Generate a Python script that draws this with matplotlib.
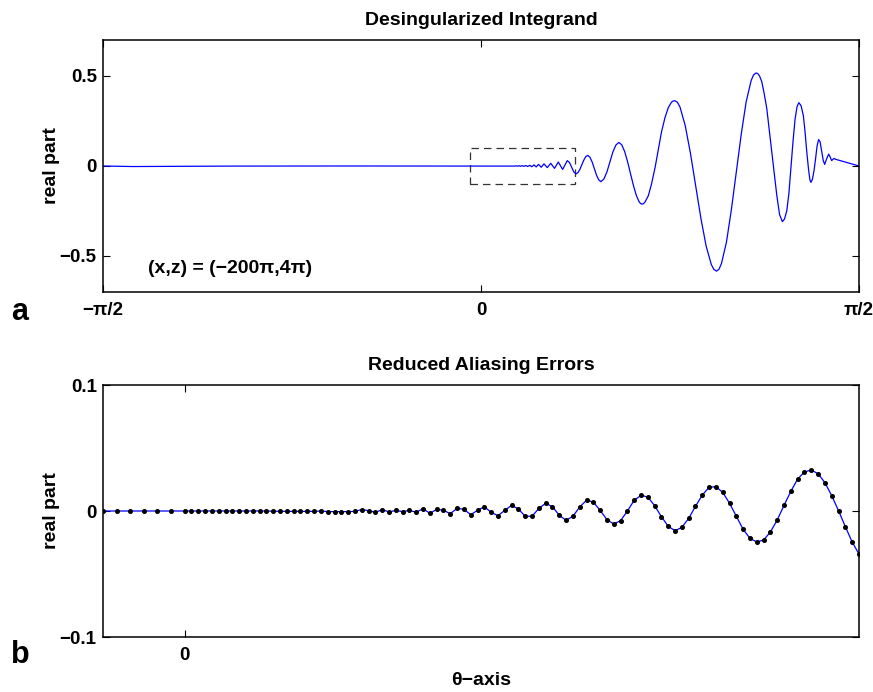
import matplotlib

matplotlib.use("Agg")

import matplotlib.pyplot as plt
import numpy as np
from matplotlib.patches import Rectangle

# ---- panel a: desingularized integrand (theta in rad, real part) ----
theta_a = [
    -1.5708, -1.446, -1.293, -1.043, -0.544, 0.1200,
    0.1330, 0.1392, 0.1455, 0.1517, 0.1579, 0.1646, 0.1712, 0.1787, 0.1862, 0.1941,
    0.2024, 0.2111, 0.2203, 0.2294, 0.2390, 0.2502, 0.2618, 0.2756, 0.2897, 0.2976,
    0.3055, 0.3134, 0.3213, 0.3302, 0.3392, 0.3487, 0.3587, 0.3678, 0.3768, 0.3857,
    0.3948, 0.4030, 0.4111, 0.4192, 0.4273, 0.4354, 0.4435, 0.4526, 0.4618, 0.4709,
    0.4800, 0.4892, 0.4983, 0.5108, 0.5233, 0.5355, 0.5478, 0.5603, 0.5727, 0.5848,
    0.5968, 0.6089, 0.6209, 0.6330, 0.6451, 0.6571, 0.6629, 0.6692, 0.6754, 0.6816,
    0.6954, 0.7086, 0.7232, 0.7369, 0.7502, 0.7648, 0.7785, 0.7918, 0.7988, 0.8055,
    0.8163, 0.8271, 0.8487, 0.8703, 0.8921, 0.9140, 0.9356, 0.9572, 0.9680, 0.9788,
    0.9892, 0.9992, 1.0200, 1.0403, 1.0609, 1.0815, 1.1018, 1.1226, 1.1326, 1.1430,
    1.1505, 1.1575, 1.1667, 1.1771, 1.1875, 1.1978, 1.2082, 1.2186, 1.2290, 1.2407,
    1.2523, 1.2610, 1.2706, 1.2793, 1.2885, 1.2968, 1.3051, 1.3134, 1.3209, 1.3300,
    1.3396, 1.3466, 1.3537, 1.3612, 1.3666, 1.3707, 1.3770, 1.3840, 1.3903, 1.3965,
    1.4028, 1.4090, 1.4160, 1.4223, 1.4281, 1.4364, 1.4447, 1.4510, 1.4572, 1.4630,
    1.4680, 1.4742, 1.5708,
]
real_a = [
    0.0, -0.003, -0.002, -0.0005, 0.0, 0.0,
    0.0005, -0.0005, 0.001, -0.001, 0.0015, -0.0015, 0.002, -0.002, 0.003, -0.003,
    0.004, -0.004, 0.006, -0.005, 0.009, -0.007, 0.012, -0.009, 0.015, 0.001,
    -0.013, 0.0045, 0.022, 0.0015, -0.019, 0.0055, 0.030, 0.019, -0.007, -0.033,
    -0.044, -0.037, -0.018, 0.0075, 0.033, 0.052, 0.059, 0.049, 0.0225, -0.014,
    -0.0505, -0.077, -0.087, -0.072, -0.033, 0.022, 0.077, 0.116, 0.131, 0.118,
    0.081, 0.025, -0.0405, -0.106, -0.162, -0.199, -0.208, -0.212, -0.209, -0.200,
    -0.165, -0.100, -0.010, 0.090, 0.190, 0.270, 0.325, 0.355, 0.361, 0.363,
    0.354, 0.327, 0.224, 0.071, -0.111, -0.292, -0.445, -0.548, -0.575, -0.584,
    -0.573, -0.542, -0.423, -0.244, -0.034, 0.177, 0.356, 0.475, 0.506, 0.517,
    0.513, 0.500, 0.469, 0.400, 0.320, 0.200, 0.080, -0.040, -0.161, -0.270,
    -0.309, -0.295, -0.250, -0.155, 0.0, 0.140, 0.260, 0.330, 0.352, 0.335,
    0.280, 0.190, 0.080, -0.020, -0.075, -0.091, -0.075, -0.025, 0.040, 0.110,
    0.147, 0.135, 0.080, 0.030, 0.009, 0.040, 0.066, 0.050, 0.030, 0.038,
    0.042, 0.037, 0.0,
]
box_x = (-0.0471, 0.3888)
box_y = (-0.1, 0.1)

# ---- panel b: reduced aliasing errors, sampled points ----
theta_b = np.concatenate([np.arange(-6, 0) * np.pi / 400, np.arange(0, 100) * np.pi / 800])
real_b = [
    0.0, 0.0, 0.0, 0.0, 0.0, 0.0,
    0.0, 0.0, 0.0, 0.0, 0.0, 0.0, 0.0, 0.0, 0.0, 0.0,
    0.0, 0.0, 0.0, -0.0002, -0.0002, -0.0003, -0.0003, -0.0003, -0.0003, -0.0003,
    0.0, -0.0005, -0.0005, -0.0005, -0.0005, -0.0003, 0.0011, 0.0003, -0.0011, 0.0011,
    -0.0008, 0.0005, -0.0005, 0.0005, -0.0010, 0.0019, -0.0019, 0.0013, 0.0005, -0.0021,
    0.0021, 0.0013, -0.0029, 0.0005,
    0.0034, -0.0011, -0.0037, 0.0005, 0.0045, 0.0016, -0.0042, -0.0042, 0.0021, 0.0061,
    0.0034, -0.0034, -0.0074, -0.0042, 0.0032, 0.0085, 0.0071, 0.0005, -0.0069, -0.0103,
    -0.0077, 0.0, 0.0085, 0.0124, 0.0111, 0.0042, -0.0045, -0.0122, -0.0156, -0.0130,
    -0.0058, 0.0037, 0.0127, 0.0188, 0.0193, 0.0148, 0.0061, -0.0042, -0.0146, -0.0217,
    -0.0246, -0.0230, -0.0167, -0.0071, 0.0045, 0.0156, 0.0254, 0.0310, 0.0325, 0.0296,
    0.0225, 0.0122, 0.0003, -0.0124, -0.0246, -0.0341,
]

plt.rcParams["font.family"] = ["Liberation Sans", "DejaVu Sans"]
plt.rcParams["font.weight"] = "bold"
plt.rcParams["axes.titleweight"] = "bold"
plt.rcParams["axes.labelweight"] = "bold"

fig = plt.figure(figsize=(8.73, 6.92), dpi=100)
fig.patch.set_facecolor("white")

ax_a = fig.add_axes([103 / 873, 1 - 292 / 692, 756 / 873, 252 / 692])
ax_b = fig.add_axes([103 / 873, 1 - 637 / 692, 756 / 873, 252 / 692])


def _style(ax):
    for spine in ax.spines.values():
        spine.set_linewidth(1.1)
        spine.set_color("black")
    ax.tick_params(direction="in", length=5, width=0.8, labelsize=13.5, top=True, right=True)
    ax.tick_params(axis="x", pad=7)
    ax.tick_params(axis="y", pad=4.5)
    for lab in ax.get_xticklabels() + ax.get_yticklabels():
        lab.set_fontweight("bold")


# panel a
ax_a.plot(theta_a, real_a, color="#0000FF", linewidth=0.9)
ax_a.add_patch(Rectangle((box_x[0], box_y[0]), box_x[1] - box_x[0], box_y[1] - box_y[0],
                         fill=False, edgecolor="#333333", linestyle=(0, (6, 4)), linewidth=0.9))
ax_a.set_xlim(-np.pi / 2, np.pi / 2)
ax_a.set_ylim(-0.7, 0.7)
ax_a.set_xticks([-np.pi / 2, 0, np.pi / 2])
ax_a.set_xticklabels(["\u2212\u03c0/2", "0", "\u03c0/2"])
ax_a.set_yticks([-0.5, 0, 0.5])
ax_a.set_yticklabels(["\u22120.5", "0", "0.5"])
ax_a.set_ylabel("real part", fontsize=14, labelpad=0)
ax_a.set_title("Desingularized Integrand", fontsize=14, pad=11)
ax_a.text(0.06, 0.095, "(x,z) = (\u2212200\u03c0,4\u03c0)", transform=ax_a.transAxes,
          fontsize=14, fontweight="bold", va="center", ha="left")
_style(ax_a)

# panel b
ax_b.plot(theta_b, real_b, color="#0000FF", linewidth=0.9, marker="o",
          markersize=2.6, markerfacecolor="black", markeredgecolor="black")
ax_b.set_xlim(box_x)
ax_b.set_ylim(-0.1, 0.1)
ax_b.set_xticks([0])
ax_b.set_xticklabels(["0"])
ax_b.set_yticks([-0.1, 0, 0.1])
ax_b.set_yticklabels(["\u22120.1", "0", "0.1"])
ax_b.set_ylabel("real part", fontsize=14, labelpad=0)
ax_b.set_xlabel("\u03b8\u2212axis", fontsize=14, labelpad=6)
ax_b.set_title("Reduced Aliasing Errors", fontsize=14, pad=11)
_style(ax_b)

fig.text(20 / 873, 1 - 312 / 692, "a", fontsize=22, fontweight="bold", ha="center", va="center")
fig.text(20 / 873, 1 - 655 / 692, "b", fontsize=22, fontweight="bold", ha="center", va="center")

fig.savefig("out.png", dpi=100, facecolor="white")
